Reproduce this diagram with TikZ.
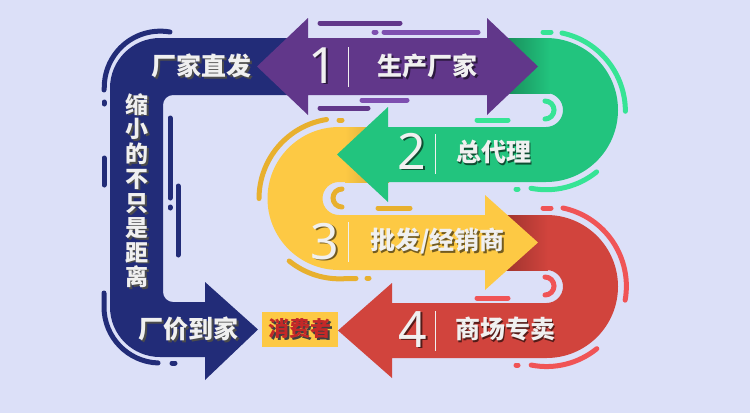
\documentclass[tikz,border=0pt]{standalone}
\usepackage{fontspec}
\newfontfamily\cjkfont{Noto Sans CJK SC}
\newfontfamily\digitfont{Noto Sans}
\usetikzlibrary{positioning}
\definecolor{bgblue}{RGB}{220,224,248}
\definecolor{navy}{RGB}{34,44,120}
\definecolor{plum}{RGB}{97,55,138}
\definecolor{plumlight}{RGB}{126,79,176}
\definecolor{mint}{RGB}{34,196,126}
\definecolor{mintlight}{RGB}{54,228,149}
\definecolor{gold}{RGB}{253,201,68}
\definecolor{golddark}{RGB}{232,176,46}
\definecolor{brick}{RGB}{209,68,61}
\definecolor{bricklight}{RGB}{240,84,86}
\definecolor{txtwhite}{RGB}{240,240,240}
\definecolor{consred}{RGB}{196,40,40}
% text with a hard drop shadow
\newcommand\shtxt[2]{\rlap{\hspace{1.6pt}\raisebox{-1.6pt}{\textcolor{#1}{#2}}}#2}

\begin{document}
\begin{tikzpicture}[x=1pt,y=-1pt,
    deco/.style={line width=5pt,line cap=round},
    lbl/.style={inner sep=0pt,text=txtwhite,font=\cjkfont\bfseries\fontsize{25}{25}\selectfont},
    num/.style={inner sep=0pt,text=txtwhite,font=\digitfont\fontsize{50}{50}\selectfont},
    bar/.style={draw=txtwhite,line width=1pt}]
    \fill[bgblue] (0,0) rectangle (750,413);
    \useasboundingbox (0,0) rectangle (750,413);

    % 4: red band
    \fill[brick] (485,215) -- (546.5,215) arc[start angle=-90,end angle=90,radius=71.5]
        -- (392,358) -- (392,378) -- (338,330.5) -- (392,283) -- (392,303)
        -- (546.5,303) arc[start angle=90,end angle=-90,radius=16.5] -- (485,270) -- cycle;
    \shade[left color=brick!65!black,right color=brick] (485,215) rectangle (548,270);
    % 3: yellow band
    \fill[gold] (388,127) -- (339,127) arc[start angle=-90,end angle=-270,radius=71.5]
        -- (485,270) -- (485,290) -- (538,242.5) -- (485,195) -- (485,215)
        -- (339,215) arc[start angle=90,end angle=270,radius=16.5] -- (388,182) -- cycle;
    \shade[left color=gold,right color=gold!80!black] (345,127) rectangle (389,182);
    % 2: green band
    \fill[mint] (487,38) -- (546,38) arc[start angle=-90,end angle=90,radius=72]
        -- (388,182) -- (388,202) -- (337,154.5) -- (388,107) -- (388,127)
        -- (546,127) arc[start angle=90,end angle=-90,radius=17] -- (487,93) -- cycle;
    \shade[left color=mint!60!black,right color=mint] (487,38) rectangle (550,93);
    % left: navy band
    \fill[navy] (308,38) -- (160,38) arc[start angle=-90,end angle=-180,radius=50]
        -- (110,307) arc[start angle=180,end angle=90,radius=50]
        -- (205,357) -- (205,380) -- (258,329.5) -- (205,282) -- (205,302)
        -- (173,302) arc[start angle=90,end angle=180,radius=10]
        -- (163,105) arc[start angle=180,end angle=270,radius=10] -- (308,95) -- cycle;
    % 1: purple double arrow
    \fill[plum] (257,66.5) -- (308,18) -- (308,38) -- (487,38) -- (487,18) -- (538,66.5)
        -- (487,115) -- (487,95) -- (308,95) -- (308,115) -- cycle;

    % decorations
    \draw[deco,navy] (170,32) arc[start angle=-80,end angle=-180,radius=56] -- (104,90);
    \draw[deco,navy] (104,102) -- (104,104);
    \draw[deco,navy] (104,158) -- (104,185);
    \draw[deco,navy] (104,293) -- (104,307) arc[start angle=180,end angle=92,radius=56];
    \draw[deco,navy] (172,363) -- (175,363);
    \draw[deco,navy] (170,118) -- (170,198);
    \draw[deco,navy] (170,207) -- (170,208);
    \draw[deco,navy] (178,186) -- (178,255);

    \draw[deco,plum] (320,23) -- (400,23);
    \draw[deco,plumlight] (374,32) -- (376,32);
    \draw[deco,plumlight] (384,32) -- (478,32);
    \draw[deco,plumlight] (362,100) -- (407,100);
    \draw[deco,plum] (320,108) -- (368,108);

    \draw[deco,mintlight] (543,32) -- (551,32);
    \draw[deco,mintlight] (562,33) arc[start angle=-78,end angle=0,radius=80];
    \draw[deco,mintlight] (596.6,171.9) arc[start angle=51,end angle=101,radius=80];
    \draw[deco,mintlight] (516,189) -- (518,189);
    \draw[deco,mintlight] (545,101) arc[start angle=-90,end angle=90,radius=9];
    \draw[deco,mintlight] (477,120) -- (508,120);

    \draw[deco,golddark] (339,120) -- (342,120);
    \draw[deco,golddark] (326.5,119.5) arc[start angle=-99,end angle=-180,radius=80];
    \draw[deco,golddark] (289.2,261) arc[start angle=129,end angle=90,radius=80] -- (356,278.5);
    \draw[deco,golddark] (367,278) -- (369,278);
    \draw[deco,golddark] (342,189) arc[start angle=270,end angle=90,radius=9];
    \draw[deco,golddark] (378,208) -- (410,208);

    \draw[deco,bricklight] (543,208) -- (551,208);
    \draw[deco,bricklight] (563,208) arc[start angle=-78,end angle=10,radius=80];
    \draw[deco,bricklight] (596.8,348.7) arc[start angle=51,end angle=101,radius=80];
    \draw[deco,bricklight] (516,365) -- (518,365);
    \draw[deco,bricklight] (545,277) arc[start angle=-90,end angle=90,radius=9];
    \draw[deco,bricklight] (477,298) -- (508,298);

    % numbers and dividers
    \node[num] (n1) at (323,66) {\shtxt{plum!45!black}{1}};
    \node[num] (n2) at (412,152) {\shtxt{mint!40!black}{2}};
    \node[num] (n3) at (325,242) {\shtxt{gold!45!black}{3}};
    \node[num] (n4) at (413,330) {\shtxt{brick!40!black}{4}};
    \draw[bar] (348,47) -- (348,87);
    \draw[bar] (435,134) -- (435,174);
    \draw[bar] (348,222) -- (348,262);
    \draw[bar] (435,311) -- (435,351);

    % labels
    \node[lbl] (s1) at (427.5,67) {\shtxt{plum!45!black}{生产厂家}};
    \node[lbl] (s2) at (493.5,153) {\shtxt{mint!40!black}{总代理}};
    \node[lbl] (s3) at (437.5,242) {\shtxt{gold!45!black}{批发/经销商}};
    \node[lbl] (s4) at (505,330) {\shtxt{brick!40!black}{商场专卖}};
    \node[lbl] (direct) at (201.5,67) {\shtxt{black!70}{厂家直发}};
    \node[lbl] (home) at (188.5,330) {\shtxt{black!70}{厂价到家}};
    \node[lbl,align=center,font=\cjkfont\bfseries\fontsize{23}{24.7}\selectfont] (slogan) at (137,191.5)
        {\shtxt{black!70}{缩}\\\shtxt{black!70}{小}\\\shtxt{black!70}{的}\\\shtxt{black!70}{不}\\
         \shtxt{black!70}{只}\\\shtxt{black!70}{是}\\\shtxt{black!70}{距}\\\shtxt{black!70}{离}};
    \node[fill=gold,minimum width=76pt,minimum height=35pt,inner sep=0pt,text=consred,
        font=\cjkfont\bfseries\fontsize{21}{21}\selectfont] (cons) at (300,329.5)
        {\shtxt{black!75}{消费者}};
\end{tikzpicture}
\end{document}
